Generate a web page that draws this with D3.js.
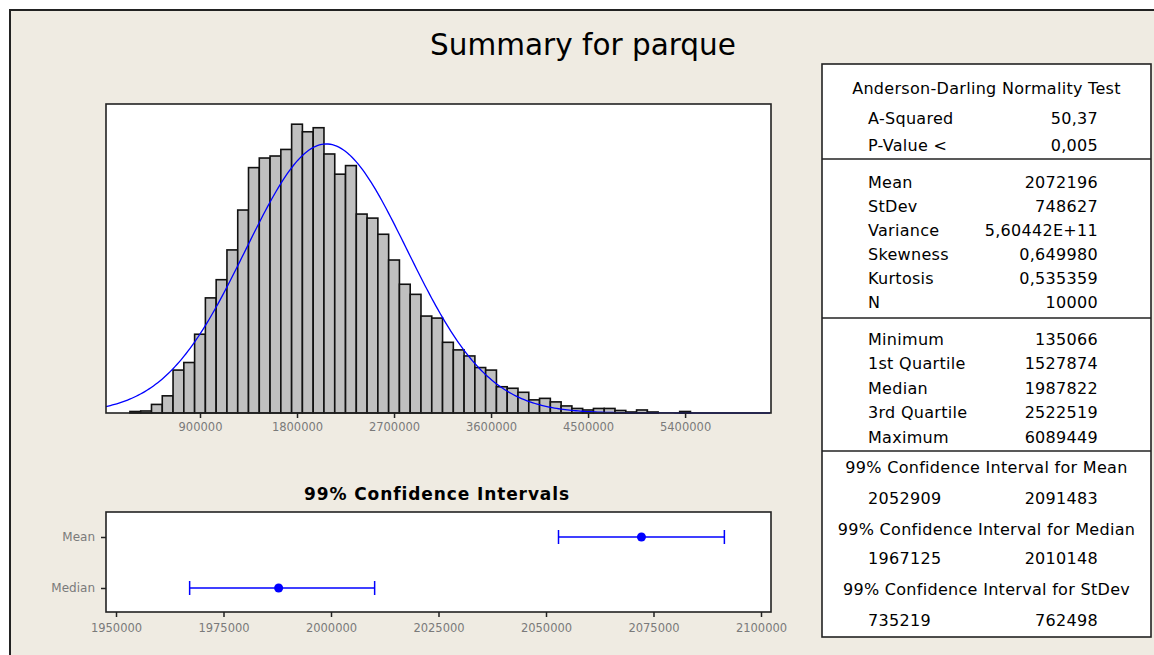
<!DOCTYPE html>
<html>
<head>
<meta charset="utf-8">
<script src="https://cdn.jsdelivr.net/npm/d3@7"></script>
<style>
  body { margin: 0; background: #fff; }
  svg { display: block; font-family: "DejaVu Sans", sans-serif; }
</style>
</head>
<body>
<svg id="chart" width="1154" height="655"></svg>
<script>
// histogram bins (midpoints) and counts
var binMid = [100000, 200000, 300000, 400000, 500000, 600000, 700000, 800000, 900000, 1000000,
  1100000, 1200000, 1300000, 1400000, 1500000, 1600000, 1700000, 1800000, 1900000, 2000000,
  2100000, 2200000, 2300000, 2400000, 2500000, 2600000, 2700000, 2800000, 2900000, 3000000,
  3100000, 3200000, 3300000, 3400000, 3500000, 3600000, 3700000, 3800000, 3900000, 4000000,
  4100000, 4200000, 4300000, 4400000, 4500000, 4600000, 4700000, 4800000, 4900000, 5000000,
  5100000, 5200000, 5300000, 5400000, 5500000, 5600000, 5700000, 5800000, 5900000, 6000000,
  6100000];
var counts = [1, 0, 3, 4, 17, 34, 85, 100, 156, 228,
  264, 323, 402, 486, 505, 509, 522, 572, 557, 565,
  513, 473, 490, 394, 386, 354, 303, 255, 235, 192,
  188, 140, 125, 113, 90, 85, 52, 49, 41, 26,
  29, 22, 14, 9, 6, 9, 9, 5, 2, 6,
  2, 0, 0, 3, 0, 0, 0, 0, 0, 0,
  1];
var binWidth = 100000;
var histTicks = [900000, 1800000, 2700000, 3600000, 4500000, 5400000];

var mean = 2072196, stdev = 748627, nObs = 10000;

// confidence intervals
var ciNames = ["Mean", "Median"];
var ciCenter = [2072196, 1987822];
var ciLow = [2052909, 1967125];
var ciHigh = [2091483, 2010148];
var ciTicks = [1950000, 1975000, 2000000, 2025000, 2050000, 2075000, 2100000];

// summary table
var adLabels = ["A-Squared", "P-Value <"];
var adValues = ["50,37", "0,005"];
var momLabels = ["Mean", "StDev", "Variance", "Skewness", "Kurtosis", "N"];
var momValues = ["2072196", "748627", "5,60442E+11", "0,649980", "0,535359", "10000"];
var qLabels = ["Minimum", "1st Quartile", "Median", "3rd Quartile", "Maximum"];
var qValues = ["135066", "1527874", "1987822", "2522519", "6089449"];
var ciTitles = ["99% Confidence Interval for Mean", "99% Confidence Interval for Median", "99% Confidence Interval for StDev"];
var ciTableLow = ["2052909", "1967125", "735219"];
var ciTableHigh = ["2091483", "2010148", "762498"];

var svg = d3.select("#chart");
var beige = "#efebe2";
var tickGrey = "#7a7a7a";

// outer panel
svg.append("rect").attr("x", 10).attr("y", 10).attr("width", 1160).attr("height", 660)
  .attr("fill", beige).attr("stroke", "#222").attr("stroke-width", 2);

svg.append("text").attr("x", 583).attr("y", 55).attr("text-anchor", "middle")
  .attr("font-size", 29.5).attr("fill", "#000").text("Summary for parque");

// ---- histogram ----
var hx = d3.scaleLinear().domain([28000, 6197000]).range([106, 771]);
var hy = d3.scaleLinear().domain([0, 612]).range([413, 104]);

svg.append("rect").attr("x", 106).attr("y", 104).attr("width", 665).attr("height", 309)
  .attr("fill", "#fff");

// single counts round to zero height in the original, so they are not drawn
var bins = binMid.map(function(m, i) { return {mid: m, n: counts[i]}; })
  .filter(function(d) { return d.n > 1; });

svg.append("g").selectAll("rect").data(bins).enter().append("rect")
  .attr("x", function(d) { return hx(d.mid - binWidth / 2); })
  .attr("width", function(d) { return hx(d.mid + binWidth / 2) - hx(d.mid - binWidth / 2); })
  .attr("y", function(d) { return hy(d.n); })
  .attr("height", function(d) { return hy(0) - hy(d.n); })
  .attr("fill", "#c0c0c0").attr("stroke", "#111").attr("stroke-width", 1.6);

// fitted normal curve from the reported mean and stdev
var curveX = d3.range(28000, 6197001, 20000);
var curve = d3.line()
  .x(function(v) { return hx(v); })
  .y(function(v) {
    var z = (v - mean) / stdev;
    return hy(nObs * binWidth / (stdev * Math.sqrt(2 * Math.PI)) * Math.exp(-z * z / 2));
  });
svg.append("path").datum(curveX).attr("d", curve)
  .attr("fill", "none").attr("stroke", "#0000ff").attr("stroke-width", 1.3);

svg.append("rect").attr("x", 106).attr("y", 104).attr("width", 665).attr("height", 309)
  .attr("fill", "none").attr("stroke", "#222").attr("stroke-width", 1.6);

var hAxis = svg.append("g").attr("transform", "translate(0,413)")
  .call(d3.axisBottom(hx).tickValues(histTicks).tickSize(5).tickSizeOuter(0).tickPadding(5)
    .tickFormat(d3.format("d")));
hAxis.select(".domain").remove();
hAxis.selectAll("line").attr("stroke", "#222").attr("stroke-width", 1.5);
hAxis.selectAll("text").attr("fill", tickGrey).attr("font-size", 11.5)
  .attr("font-family", "DejaVu Sans, sans-serif");

// ---- confidence interval plot ----
svg.append("text").attr("x", 437).attr("y", 500).attr("text-anchor", "middle")
  .attr("font-size", 17).attr("font-weight", "bold").attr("letter-spacing", 0.9)
  .attr("fill", "#000").text("99% Confidence Intervals");

var cx = d3.scaleLinear().domain([1947674, 2102326]).range([106, 771]);
var cy = d3.scalePoint().domain(ciNames).range([537, 588]);

svg.append("rect").attr("x", 106).attr("y", 512).attr("width", 665).attr("height", 100)
  .attr("fill", "#fff").attr("stroke", "#222").attr("stroke-width", 1.6);

var cAxis = svg.append("g").attr("transform", "translate(0,612)")
  .call(d3.axisBottom(cx).tickValues(ciTicks).tickSize(5).tickSizeOuter(0).tickPadding(7)
    .tickFormat(d3.format("d")));
cAxis.select(".domain").remove();
cAxis.selectAll("line").attr("stroke", "#222").attr("stroke-width", 1.5);
cAxis.selectAll("text").attr("fill", tickGrey).attr("font-size", 11.5)
  .attr("font-family", "DejaVu Sans, sans-serif");

var yAxis = svg.append("g").attr("transform", "translate(106,0)")
  .call(d3.axisLeft(cy).tickSize(5).tickSizeOuter(0).tickPadding(6));
yAxis.select(".domain").remove();
yAxis.selectAll("line").attr("stroke", "#222").attr("stroke-width", 1.5);
yAxis.selectAll("text").attr("fill", tickGrey).attr("font-size", 12)
  .attr("font-family", "DejaVu Sans, sans-serif");

var ci = ciNames.map(function(n, i) {
  return {name: n, c: ciCenter[i], lo: ciLow[i], hi: ciHigh[i]};
});
var ciG = svg.append("g").selectAll("g").data(ci).enter().append("g")
  .attr("stroke", "#0000ff").attr("fill", "#0000ff");
ciG.append("line")
  .attr("x1", function(d) { return cx(d.lo); }).attr("x2", function(d) { return cx(d.hi); })
  .attr("y1", function(d) { return cy(d.name); }).attr("y2", function(d) { return cy(d.name); })
  .attr("stroke-width", 1.5);
ciG.append("line")
  .attr("x1", function(d) { return cx(d.lo); }).attr("x2", function(d) { return cx(d.lo); })
  .attr("y1", function(d) { return cy(d.name) - 7; }).attr("y2", function(d) { return cy(d.name) + 7; })
  .attr("stroke-width", 1.5);
ciG.append("line")
  .attr("x1", function(d) { return cx(d.hi); }).attr("x2", function(d) { return cx(d.hi); })
  .attr("y1", function(d) { return cy(d.name) - 7; }).attr("y2", function(d) { return cy(d.name) + 7; })
  .attr("stroke-width", 1.5);
ciG.append("circle")
  .attr("cx", function(d) { return cx(d.c); }).attr("cy", function(d) { return cy(d.name); })
  .attr("r", 4.5).attr("stroke", "none");

// ---- summary table ----
var tb = {left: 822, right: 1151, top: 64, bottom: 637};
svg.append("rect").attr("x", tb.left).attr("y", tb.top)
  .attr("width", tb.right - tb.left).attr("height", tb.bottom - tb.top)
  .attr("fill", "#fff").attr("stroke", "#222").attr("stroke-width", 1.6);
[159, 318, 451].forEach(function(y) {
  svg.append("line").attr("x1", tb.left).attr("x2", tb.right).attr("y1", y).attr("y2", y)
    .attr("stroke", "#222").attr("stroke-width", 1.6);
});

var tg = svg.append("g").attr("font-size", 16).attr("letter-spacing", 0.3).attr("fill", "#000");
var midX = (tb.left + tb.right) / 2;
function centerText(txt, y) {
  tg.append("text").attr("x", midX).attr("y", y).attr("dy", "0.35em")
    .attr("text-anchor", "middle").text(txt);
}
function pairRows(labels, values, ys) {
  labels.forEach(function(l, i) {
    tg.append("text").attr("x", 868).attr("y", ys[i]).attr("dy", "0.35em").text(l);
    tg.append("text").attr("x", 1098).attr("y", ys[i]).attr("dy", "0.35em")
      .attr("text-anchor", "end").text(values[i]);
  });
}
centerText("Anderson-Darling Normality Test", 88);
pairRows(adLabels, adValues, [118, 145]);
pairRows(momLabels, momValues, [182, 206, 230, 254, 278, 302]);
pairRows(qLabels, qValues, [339, 363, 388, 412, 437]);
var ciTitleY = [467, 529, 589], ciValY = [498, 558, 620];
ciTitles.forEach(function(t, i) {
  centerText(t, ciTitleY[i]);
});
pairRows(ciTableLow, ciTableHigh, ciValY);
</script>
</body>
</html>
